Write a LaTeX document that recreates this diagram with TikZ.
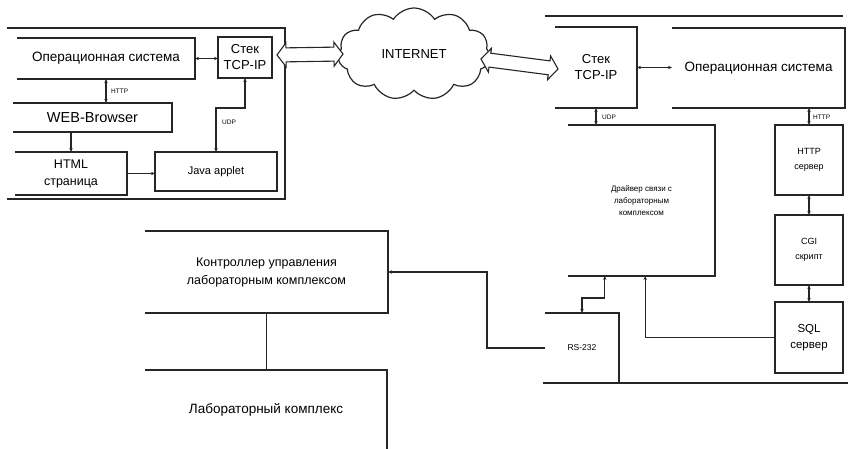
\documentclass[tikz,border=0pt]{standalone}
\usepackage{fontspec}
\setmainfont{Liberation Sans}
\usetikzlibrary{arrows.meta,calc,shapes.symbols}

\newcommand\ftBig{\fontsize{13.5}{18}\selectfont}
\newcommand\ftCtrl{\fontsize{12.5}{18}\selectfont}
\newcommand\ftStack{\fontsize{13}{16}\selectfont}
\newcommand\ftWeb{\fontsize{14.5}{17}\selectfont}
\newcommand\ftHtml{\fontsize{12.5}{17}\selectfont}
\newcommand\ftJava{\fontsize{11}{13}\selectfont}
\newcommand\ftNet{\fontsize{13}{15}\selectfont}
\newcommand\ftDrv{\fontsize{8}{12}\selectfont}
\newcommand\ftSrv{\fontsize{9}{15}\selectfont}
\newcommand\ftSql{\fontsize{11.5}{16}\selectfont}
\newcommand\ftRs{\fontsize{8.5}{10}\selectfont}
\newcommand\ftLab{\fontsize{6.5}{8}\selectfont}

\newcommand\openbox[1]{\draw[ln] (#1.north west) -- (#1.north east) -- (#1.south east) -- (#1.south west);}
\newcommand\fatdouble[2]{%
\draw[fat] (#1)
 -- ($(#1)!9pt!(#2)!12pt!90:(#2)$)
 -- ($(#1)!9pt!(#2)!7pt!90:(#2)$)
 -- ($(#2)!9pt!(#1)!7pt!-90:(#1)$)
 -- ($(#2)!9pt!(#1)!12pt!-90:(#1)$)
 -- (#2)
 -- ($(#2)!9pt!(#1)!12pt!90:(#1)$)
 -- ($(#2)!9pt!(#1)!7pt!90:(#1)$)
 -- ($(#1)!9pt!(#2)!7pt!-90:(#2)$)
 -- ($(#1)!9pt!(#2)!12pt!-90:(#2)$)
 -- cycle;}

\begin{document}
\begin{tikzpicture}[x=1pt,y=-1pt,
  ln/.style={line width=1.2pt, draw=black!85},
  bx/.style={inner sep=0pt, outer sep=0pt, align=center},
  bxd/.style={bx, draw, line width=1.2pt, draw=black!85},
  sz/.style 2 args={minimum width=#1pt, minimum height=#2pt},
  con/.style={ln, {Stealth[length=4pt,width=3.4pt]}-{Stealth[length=4pt,width=3.4pt]}},
  con1/.style={ln, -{Stealth[length=4pt,width=3.4pt]}},
  lab/.style={font=\ftLab, anchor=west, inner sep=0pt},
  fat/.style={line width=1.1pt, draw=black!85, fill=white, line join=miter}
]
\useasboundingbox (0,0) rectangle (849,449);

% ---------- left frame ----------
\coordinate (fL1) at (7,28);
\coordinate (fL2) at (285,28);
\coordinate (fL3) at (285,199);
\coordinate (fL4) at (7,199);
\draw[ln] (fL1) -- (fL2) -- (fL3) -- (fL4);

\node[bx,sz={178}{41},font=\ftBig] (osL) at (106,58.5) {Операционная система};
\node[bxd,sz={54}{41},font=\ftStack] (stackL) at (245,57.5) {Стек\\TCP-IP};
\node[bx,sz={159}{29},font=\ftWeb] (web) at (92.5,117.5) {WEB-Browser};
\node[bx,sz={112}{43},font=\ftHtml] (html) at (71,173.5) {HTML\\страница};
\node[bxd,sz={122}{39},font=\ftJava] (java) at (216,171.5) {Java applet};
\openbox{osL}
\openbox{web}
\openbox{html}

\draw[con] (osL.east) -- (osL.east -| stackL.west);
\draw[con] (osL.south) -- (osL.south |- web.north);
\node[lab] at (111,91) {HTTP};
\draw[con1] (html.north |- web.south) -- (html.north);
\draw[con1] (html.east) -- (html.east -| java.west);
\draw[con] (java.north) |- ($(stackL.south)+(0,30)$) -- (stackL.south);
\node[lab] at (222,122) {UDP};

% ---------- cloud ----------
\node[cloud, cloud puffs=11, cloud puff arc=115, aspect=1.65, draw, ln,
      minimum width=152pt, minimum height=92pt, inner sep=0pt, font=\ftNet] (net) at (414,54) {INTERNET};

% ---------- right frame ----------
\coordinate (fR1) at (545,16);
\coordinate (fR2) at (843,16);
\coordinate (fR3) at (543,383);
\coordinate (fR4) at (848,383);
\draw[ln] (fR1) -- (fR2);
\draw[ln] (fR3) -- (fR4);

\node[bx,sz={82}{81},font=\ftStack] (stackR) at (596,67.5) {Стек\\TCP-IP};
\node[bx,sz={173}{80},font=\ftBig] (osR) at (758.5,68) {Операционная система};
\node[bx,sz={147}{151},font=\ftDrv] (driver) at (641.5,200.5) {Драйвер связи с\\лабораторным\\комплексом};
\node[bxd,sz={68}{70},font=\ftSrv] (httpS) at (809,160) {HTTP\\сервер};
\node[bxd,sz={68}{70},font=\ftSrv] (cgi) at (809,250) {CGI\\скрипт};
\node[bxd,sz={68}{71},font=\ftSql] (sql) at (809,337.5) {SQL\\сервер};
\node[bx,sz={74}{70},font=\ftRs] (rs) at (582,348) {RS-232};
\openbox{stackR}
\openbox{osR}
\openbox{driver}
\openbox{rs}

\draw[con] (stackR.east) -- (stackR.east -| osR.west);
\draw[con] (stackR.south) -- (stackR.south |- driver.north);
\node[lab] at (602,117) {UDP};
\draw[con] (httpS.north |- osR.south) -- (httpS.north);
\node[lab] at (813,117) {HTTP};
\draw[con] (httpS.south) -- (cgi.north);
\draw[con] (cgi.south) -- (sql.north);
\coordinate (dA) at ($(driver.south west)!0.25!(driver.south east)$);
\coordinate (dB) at ($(driver.south west)!0.525!(driver.south east)$);
\draw[con1] (sql.west) -| (dB);
\draw[con] (rs.north) |- ($(dA)+(0,22)$) -- (dA);

% ---------- bottom left ----------
\node[bx,sz={243}{82},font=\ftCtrl] (ctrl) at (266.5,272) {Контроллер управления\\лабораторным комплексом};
\node[bx,sz={242}{79},font=\ftBig] (labc) at (266,409.5) {Лабораторный комплекс};
\openbox{ctrl}
\draw[ln] (labc.north west) -- (labc.north east) -- (labc.south east);

\draw[con1] (rs.west) -| ($(ctrl.east)+(99,0)$) -- (ctrl.east);
\draw[ln] (ctrl.south) -- (ctrl.south |- labc.north);

% ---------- fat arrows ----------
\coordinate (faL) at (277,55);
\coordinate (faR) at (343,54);
\coordinate (fbL) at (481,59);
\coordinate (fbR) at (558,69);
\fatdouble{faL}{faR}
\fatdouble{fbL}{fbR}
\end{tikzpicture}
\end{document}
